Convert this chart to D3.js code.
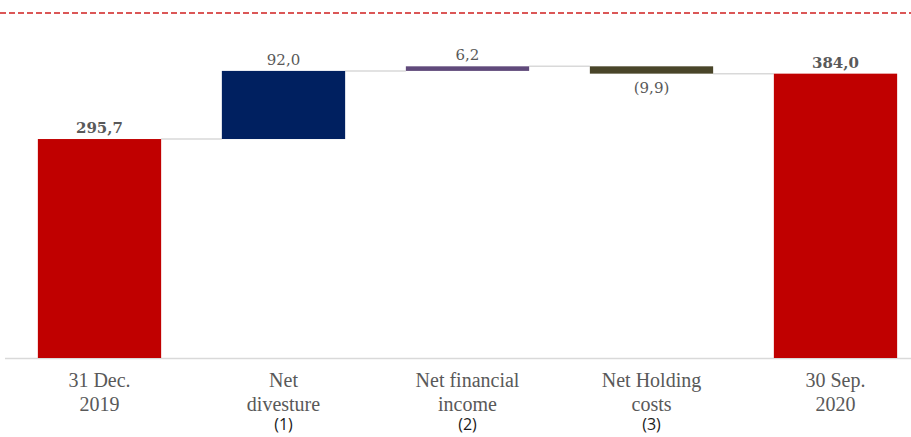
<!DOCTYPE html>
<html>
<head>
<meta charset="utf-8">
<script src="https://cdn.jsdelivr.net/npm/d3@7"></script>
<style>
  body { margin: 0; background: #fff; }
</style>
</head>
<body>
<div id="container"></div>
<script>
/* CONSTANTS AND GLOBALS */
const width = 911;
const height = 437;

/* DATA */
const categories = ["31 Dec. 2019", "Net divesture", "Net financial income", "Net Holding costs", "30 Sep. 2020"];
const labelLines = [["31 Dec.", "2019"], ["Net", "divesture"], ["Net financial", "income"], ["Net Holding", "costs"], ["30 Sep.", "2020"]];
const notes = ["", "(1)", "(2)", "(3)", ""];
const values = [295.7, 92.0, 6.2, -9.9, 384.0];
const kinds = ["total", "delta", "delta", "delta", "total"];
const valueLabels = ["295,7", "92,0", "6,2", "(9,9)", "384,0"];
const colors = ["#c00000", "#002060", "#604a7b", "#494529", "#c00000"];

// running totals for the waterfall
let run = 0;
const bars = categories.map((c, i) => {
  let y0, y1;
  if (kinds[i] === "total") { y0 = 0; y1 = values[i]; run = values[i]; }
  else { y0 = run; y1 = run + values[i]; run = y1; }
  return { cat: c, y0, y1, end: run, i };
});

/* SCALES */
const xScale = d3.scaleBand()
  .domain(categories)
  .range([7.5, 927.5])
  .paddingInner(0.33)
  .paddingOuter(0.165);

const yScale = d3.scaleLinear()
  .domain([0, 400])
  .range([358, 61.8]);

/* SVG */
const svg = d3.select("#container")
  .append("svg")
  .attr("width", width)
  .attr("height", height)
  .style("font-family", "'DejaVu Serif', serif");

// dashed red line at top
svg.append("line")
  .attr("x1", 0).attr("x2", width)
  .attr("y1", 13).attr("y2", 13)
  .attr("stroke", "#d02020")
  .attr("stroke-width", 1.6)
  .attr("stroke-dasharray", "6,3");

// baseline
svg.append("line")
  .attr("x1", 5).attr("x2", width)
  .attr("y1", yScale(0) + 0.5).attr("y2", yScale(0) + 0.5)
  .attr("stroke", "#d9d9d9")
  .attr("stroke-width", 1.5);

// connectors
svg.selectAll("line.conn")
  .data(bars.slice(0, -1))
  .join("line")
  .attr("class", "conn")
  .attr("x1", d => xScale(d.cat) + xScale.bandwidth())
  .attr("x2", d => xScale(categories[d.i + 1]))
  .attr("y1", d => yScale(d.end))
  .attr("y2", d => yScale(d.end))
  .attr("stroke", "#d9d9d9")
  .attr("stroke-width", 1.5);

// bars
svg.selectAll("rect.bar")
  .data(bars)
  .join("rect")
  .attr("class", "bar")
  .attr("x", d => xScale(d.cat))
  .attr("width", xScale.bandwidth())
  .attr("y", d => yScale(Math.max(d.y0, d.y1)))
  .attr("height", d => Math.abs(yScale(d.y0) - yScale(d.y1)))
  .attr("fill", (d, i) => colors[i]);

// value labels
svg.selectAll("text.val")
  .data(bars)
  .join("text")
  .attr("class", "val")
  .attr("x", d => xScale(d.cat) + xScale.bandwidth() / 2)
  .attr("y", d => d.y1 < d.y0 ? yScale(d.y1) + 19 : yScale(Math.max(d.y0, d.y1)) - 6)
  .attr("text-anchor", "middle")
  .attr("fill", "#595959")
  .style("font-size", "15px")
  .style("font-weight", (d, i) => kinds[i] === "total" ? "bold" : "normal")
  .text((d, i) => valueLabels[i]);

// category labels
const catG = svg.selectAll("g.cat")
  .data(categories)
  .join("g")
  .attr("class", "cat")
  .attr("transform", d => `translate(${xScale(d) + xScale.bandwidth() / 2}, 0)`);

catG.selectAll("text")
  .data((d, i) => labelLines[i])
  .join("text")
  .attr("y", (d, j) => 387 + j * 24)
  .attr("text-anchor", "middle")
  .attr("fill", "#595959")
  .style("font-family", "'Liberation Serif', serif")
  .style("font-size", "20px")
  .text(d => d);

catG.append("text")
  .attr("y", 430)
  .attr("text-anchor", "middle")
  .attr("fill", "#1a1a1a")
  .style("font-family", "'Open Sans', sans-serif")
  .style("font-size", "16px")
  .text((d, i) => notes[i]);
</script>
</body>
</html>
